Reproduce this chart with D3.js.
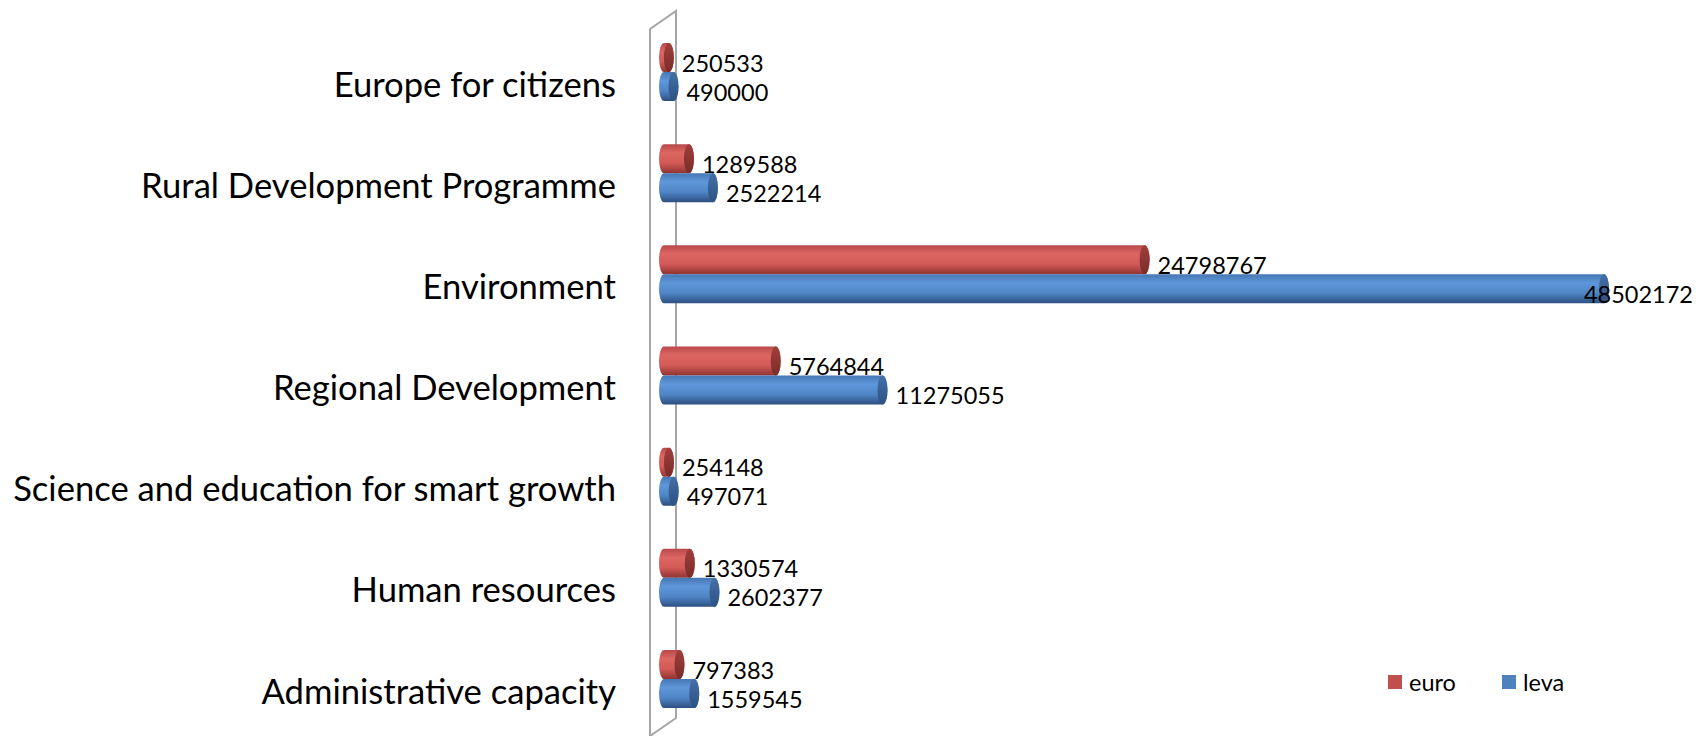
<!DOCTYPE html>
<html>
<head>
<meta charset="utf-8">
<script src="https://cdn.jsdelivr.net/npm/d3@7"></script>
<style>
  body { margin: 0; background: #fff; }
  svg { display: block; font-family: Lato, "Open Sans", sans-serif; }
</style>
</head>
<body>
<svg id="chart" width="1696" height="736"></svg>
<script>
// data, top row first
var categories = ["Europe for citizens", "Rural Development Programme", "Environment",
  "Regional Development", "Science and education for smart growth", "Human resources",
  "Administrative capacity"];
var euro = [250533, 1289588, 24798767, 5764844, 254148, 1330574, 797383];
var leva = [490000, 2522214, 48502172, 11275055, 497071, 2602377, 1559545];
var seriesNames = ["euro", "leva"];

var W = 1696, H = 736;
var svg = d3.select("#chart");
var defs = svg.append("defs");

var x = d3.scaleLinear().domain([0, d3.max(leva)]).range([664, 1604]);
var y = d3.scalePoint().domain(categories).range([83, 690]);
var barH = 29, rx = 5;

var series = [
  {name: "euro", values: euro, base: "#c0504d",
    body: ["#b9494a", "#dc6662", "#d25a57", "#8f3431"], cap: ["#a03f3c", "#7a2c2a"]},
  {name: "leva", values: leva, base: "#4f81bd",
    body: ["#4777b5", "#5e97da", "#4f85c6", "#2c4f80"], cap: ["#446fa6", "#2d5283"]}
];

series.forEach(function(s) {
  var g = defs.append("linearGradient").attr("id", "body-" + s.name)
    .attr("x1", 0).attr("y1", 0).attr("x2", 0).attr("y2", 1);
  [0, 0.3, 0.65, 1].forEach(function(o, i) {
    g.append("stop").attr("offset", o).attr("stop-color", s.body[i]);
  });
  var c = defs.append("linearGradient").attr("id", "cap-" + s.name)
    .attr("x1", 0).attr("y1", 0).attr("x2", 0).attr("y2", 1);
  c.append("stop").attr("offset", 0).attr("stop-color", s.cap[0]);
  c.append("stop").attr("offset", 1).attr("stop-color", s.cap[1]);
});

// back wall of the 3d axis
svg.append("path")
  .attr("d", "M650,29 L676,11 L676,718 L650,736 M650,29 L650,736")
  .attr("fill", "none").attr("stroke", "#a6a6a6").attr("stroke-width", 2);

// category labels
svg.append("g").selectAll("text").data(categories).enter().append("text")
  .attr("x", 616).attr("y", function(d) { return y(d); })
  .attr("text-anchor", "end").attr("dominant-baseline", "central")
  .attr("font-size", 34.6).attr("fill", "#000")
  .text(function(d) { return d; });

function cylinder(x0, x1, top, h) {
  var ry = h / 2;
  return "M" + x0 + "," + top + " L" + x1 + "," + top +
    " A" + rx + "," + ry + " 0 0 1 " + x1 + "," + (top + h) +
    " L" + x0 + "," + (top + h) +
    " A" + rx + "," + ry + " 0 0 1 " + x0 + "," + top + "Z";
}

series.forEach(function(s, si) {
  var grp = svg.append("g").attr("class", "series-" + s.name);
  var rows = categories.map(function(c, i) { return {cat: c, v: s.values[i]}; });
  function top(d) { return y(d.cat) - 11 - (si == 0 ? barH : 0); }

  grp.selectAll("path.body").data(rows).enter().append("path")
    .attr("class", "body")
    .attr("d", function(d) { return cylinder(x(0), x(d.v), top(d), barH); })
    .attr("fill", "url(#body-" + s.name + ")");

  grp.selectAll("ellipse").data(rows).enter().append("ellipse")
    .attr("cx", function(d) { return x(d.v); })
    .attr("cy", function(d) { return top(d) + barH / 2; })
    .attr("rx", rx).attr("ry", barH / 2)
    .attr("fill", "url(#cap-" + s.name + ")");

  grp.selectAll("text").data(rows).enter().append("text")
    .attr("x", function(d) { return x(d.v) + rx + 8; })
    .attr("y", function(d) { return top(d) + barH / 2 + 5; })
    .attr("dominant-baseline", "central")
    .attr("font-size", 23.5).attr("fill", "#000")
    .text(function(d) { return d.v; })
    .each(function() {
      var w = this.getComputedTextLength();
      var xx = +d3.select(this).attr("x");
      if (xx + w > W - 3) d3.select(this).attr("x", W - 3 - w);
    });
});

// legend
var legend = svg.append("g").attr("class", "legend");
var lx = [1388, 1502];
series.forEach(function(s, i) {
  legend.append("rect").attr("x", lx[i]).attr("y", 675)
    .attr("width", 14).attr("height", 14).attr("fill", s.base);
  legend.append("text").attr("x", lx[i] + 21).attr("y", 682)
    .attr("dominant-baseline", "central").attr("font-size", 23.5)
    .text(seriesNames[i]);
});
</script>
</body>
</html>
